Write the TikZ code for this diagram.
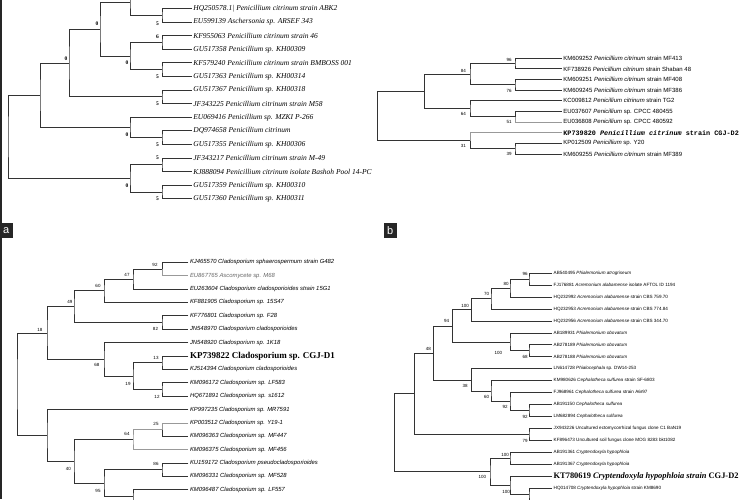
\documentclass[tikz,border=0pt]{standalone}
\usepackage{fontspec}
\setmainfont{Liberation Serif}
\setsansfont{Liberation Sans}
\setmonofont{Liberation Mono}
\usetikzlibrary{math}

\tikzset{
  br/.style={line width=0.9pt, draw=black!80},
  brl/.style={line width=0.6pt, draw=black!40},
  leafa/.style={anchor=west, inner sep=1.5pt, font=\fontsize{7.5}{8}\selectfont\itshape},
  leafb/.style={anchor=west, inner sep=1.5pt, font=\sffamily\fontsize{6}{7}\selectfont},
  leafc/.style={anchor=west, inner sep=1.5pt, font=\sffamily\fontsize{5.9}{7}\selectfont\itshape},
  leafd/.style={anchor=west, inner sep=1.5pt, font=\sffamily\fontsize{4.6}{5}\selectfont},
  bsa/.style={inner sep=0pt, font=\fontsize{5.5}{6}\selectfont\bfseries},
  bs/.style={inner sep=0pt, font=\sffamily\fontsize{4.5}{5}\selectfont},
  tag/.style={fill=black!85, text=white, inner sep=0pt, minimum width=13pt, minimum height=15.6pt, font=\sffamily\fontsize{11}{11}\selectfont},
}

\begin{document}
\begin{tikzpicture}[x=1pt,y=-1pt]
\tikzmath{
\xa=191.7;
\xb=561.7;
\xc=188.3;
\xd=552;
}
\useasboundingbox (0,0) rectangle (750,499);
\clip (0,0) rectangle (750,499);

\coordinate (frameT) at (1,0);
\coordinate (frameB) at (1,499);
\draw[line width=1.3pt, black!85] (frameT) -- (frameB);

% tree a
\node[leafa] (a1) at (\xa,8.5) {HQ250578.1| Penicillium citrinum strain ABK2};
\node[leafa] (a2) at (\xa,22.1) {EU599139 Aschersonia sp. ARSEF 343};
\node[leafa] (a3) at (\xa,35.7) {KF955063 Penicillium citrinum strain 46};
\node[leafa] (a4) at (\xa,49.3) {GU517358 Penicillium sp. KH00309};
\node[leafa] (a5) at (\xa,62.9) {KF579240 Penicillium citrinum strain BMBOSS 001};
\node[leafa] (a6) at (\xa,76.5) {GU517363 Penicillium sp. KH00314};
\node[leafa] (a7) at (\xa,90.1) {GU517367 Penicillium sp. KH00318};
\node[leafa] (a8) at (\xa,103.7) {JF343225 Penicillium citrinum strain M58};
\node[leafa] (a9) at (\xa,117.3) {EU069416 Penicillium sp. MZKI P-266};
\node[leafa] (a10) at (\xa,130.9) {DQ974658 Penicillium citrinum};
\node[leafa] (a11) at (\xa,144.5) {GU517355 Penicillium sp. KH00306};
\node[leafa] (a12) at (\xa,158.1) {JF343217 Penicillium citrinum strain M-49};
\node[leafa] (a13) at (\xa,171.7) {KJ888094 Penicillium citrinum isolate Bashoh Pool 14-PC};
\node[leafa] (a14) at (\xa,185.3) {GU517359 Penicillium sp. KH00310};
\node[leafa] (a15) at (\xa,198.9) {GU517360 Penicillium sp. KH00311};
\coordinate (aCut) at (\xa,-12);

\coordinate (nA0) at (130,2);
\coordinate (nA1) at (162,15.3);
\coordinate (nA2) at (162,42.5);
\coordinate (nA3) at (162,69.7);
\coordinate (nA4) at (130,56.1);
\coordinate (nA5) at (100,29.1);
\coordinate (nA6) at (162,96.9);
\coordinate (nA7) at (69,63);
\coordinate (nA8) at (162,137.7);
\coordinate (nA9) at (130,127.5);
\coordinate (nA10) at (40,95.3);
\coordinate (nA11) at (162,164.9);
\coordinate (nA12) at (162,192.1);
\coordinate (nA13) at (130,178.5);
\coordinate (nAr) at (8,136.9);

\draw[br] (aCut) -| (nA0) |- (nA1);
\draw[br] (a1.west) -| (nA1) |- (a2.west);
\draw[br] (a3.west) -| (nA2) |- (a4.west);
\draw[br] (a5.west) -| (nA3) |- (a6.west);
\draw[br] (nA2) -| (nA4) |- (nA3);
\draw[br] (nA0) -| (nA5) |- (nA4);
\draw[br] (a7.west) -| (nA6) |- (a8.west);
\draw[br] (nA5) -| (nA7) |- (nA6);
\draw[br] (a10.west) -| (nA8) |- (a11.west);
\draw[br] (a9.west) -| (nA9) |- (nA8);
\draw[br] (nA7) -| (nA10) |- (nA9);
\draw[br] (a12.west) -| (nA11) |- (a13.west);
\draw[br] (a14.west) -| (nA12) |- (a15.west);
\draw[br] (nA11) -| (nA13) |- (nA12);
\draw[br] (nA10) -| (nAr) |- (nA13);

\node[bsa] (bA1) at (97,24) {0};
\node[bsa] (bA2) at (157.5,23.5) {5};
\node[bsa] (bA3) at (157.5,37) {6};
\node[bsa] (bA4) at (127,63) {0};
\node[bsa] (bA5) at (157.5,77) {5};
\node[bsa] (bA6) at (66,58.3) {0};
\node[bsa] (bA7) at (157.5,103.3) {5};
\node[bsa] (bA8) at (127,134.5) {0};
\node[bsa] (bA9) at (157.5,144.5) {5};
\node[bsa] (bA10) at (157.5,158) {5};
\node[bsa] (bA11) at (127,186) {0};
\node[bsa] (bA12) at (157.5,199) {5};

\node[tag] (tagA) at (6.3,230.5) {a};

% tree b
\node[leafb] (b1) at (\xb,58.3) {KM609252 \textit{Penicillium citrinum} strain MF413};
\node[leafb] (b2) at (\xb,68.9) {KF738926 \textit{Penicillium citrinum} strain Shaban 48};
\node[leafb] (b3) at (\xb,79.6) {KM609251 \textit{Penicillium citrinum} strain MF408};
\node[leafb] (b4) at (\xb,90.2) {KM609245 \textit{Penicillium citrinum} strain MF386};
\node[leafb] (b5) at (\xb,100.8) {KC009812 \textit{Penicillium citrinum} strain TG2};
\node[leafb] (b6) at (\xb,111.5) {EU037607 \textit{Penicillium} sp. CPCC 480455};
\node[leafb] (b7) at (\xb,122.1) {EU036808 \textit{Penicillium} sp. CPCC 480592};
\node[leafb, font=\ttfamily\bfseries\fontsize{6.8}{7}\selectfont] (b8) at (\xb,132.7) {KP739820 \textit{Penicillium citrinum} strain CGJ-D2};
\node[leafb] (b9) at (\xb,143.4) {KP012509 \textit{Penicillium} sp. Y20};
\node[leafb] (b10) at (\xb,154) {KM609255 \textit{Penicillium citrinum} strain MF389};

\coordinate (nB1) at (515,63.6);
\coordinate (nB2) at (515,84.9);
\coordinate (nB3) at (470,74.3);
\coordinate (nB4) at (515,116.8);
\coordinate (nB5) at (470,108.8);
\coordinate (nB6) at (424.3,91.5);
\coordinate (nB7) at (515,148.7);
\coordinate (nB8) at (470,140.7);
\coordinate (nBr) at (377.7,116.1);

\draw[br] (b1.west) -| (nB1) |- (b2.west);
\draw[br] (b3.west) -| (nB2) |- (b4.west);
\draw[br] (nB1) -| (nB3) |- (nB2);
\draw[br] (b6.west) -| (nB4);
\draw[brl] (nB4) |- (b7.west);
\draw[br] (b5.west) -| (nB5) |- (nB4);
\draw[br] (nB3) -| (nB6) |- (nB5);
\draw[br] (b9.west) -| (nB7) |- (b10.west);
\draw[brl] (b8.west) -| (nB8);
\draw[br] (nB8) |- (nB7);
\draw[br] (nB6) -| (nBr) |- (nB8);

\node[bs] (bB1) at (509,60) {96};
\node[bs] (bB2) at (509,90.5) {76};
\node[bs] (bB3) at (463.3,71) {84};
\node[bs] (bB4) at (509,121.5) {51};
\node[bs] (bB5) at (463.3,113.5) {64};
\node[bs] (bB6) at (463.3,146) {31};
\node[bs] (bB7) at (509,154) {39};

\node[tag] (tagB) at (390.3,230.5) {b};

% tree c
\node[leafc] (c1) at (\xc,262.3) {KJ465570 Cladosporium sphaerospermum strain G482};
\node[leafc, text=black!60] (c2) at (\xc,275.7) {EU867765 Ascomycete sp. M68};
\node[leafc] (c3) at (\xc,289.1) {EU263604 Cladosporium cladosporioides strain 15G1};
\node[leafc] (c4) at (\xc,302.4) {KF881905 Cladosporium sp. 15S47};
\node[leafc] (c5) at (\xc,315.8) {KF776801 Cladosporium sp. F28};
\node[leafc] (c6) at (\xc,329.2) {JN548970 Cladosporium cladosporioides};
\node[leafc] (c7) at (\xc,342.6) {JN548920 Cladosporium sp. 1K18};
\node[leafc, font=\bfseries\fontsize{9}{10}\selectfont] (c8) at (\xc,356) {KP739822 Cladosporium sp. CGJ-D1};
\node[leafc] (c9) at (\xc,369.3) {KJ514394 Cladosporium cladosporioides};
\node[leafc] (c10) at (\xc,382.7) {KM096172 Cladosporium sp. LF583};
\node[leafc] (c11) at (\xc,396.1) {HQ671891 Cladosporium sp. s1612};
\node[leafc] (c12) at (\xc,409.5) {KP997235 Cladosporium sp. MR7591};
\node[leafc] (c13) at (\xc,422.9) {KP003512 Cladosporium sp. Y19-1};
\node[leafc] (c14) at (\xc,436.2) {KM096363 Cladosporium sp. MF447};
\node[leafc] (c15) at (\xc,449.6) {KM096375 Cladosporium sp. MF456};
\node[leafc] (c16) at (\xc,463) {KU159172 Cladosporium pseudocladosporioides};
\node[leafc] (c17) at (\xc,476.4) {KM096331 Cladosporium sp. MF528};
\node[leafc] (c18) at (\xc,489.8) {KM096487 Cladosporium sp. LF557};
\coordinate (cCut) at (\xc,504);

\coordinate (nC1) at (162,269);
\coordinate (nC2) at (133,279.1);
\coordinate (nC3) at (104,290.8);
\coordinate (nC4) at (162,322.5);
\coordinate (nC5) at (74,306.6);
\coordinate (nC6) at (162,362.7);
\coordinate (nC7) at (162,389.4);
\coordinate (nC8) at (133,376);
\coordinate (nC9) at (104,359.3);
\coordinate (nC10) at (47,333);
\coordinate (nC11) at (162,429.6);
\coordinate (nC12) at (133,439.6);
\coordinate (nC13) at (162,469.7);
\coordinate (nC14) at (133,496.5);
\coordinate (nC15) at (104,483.1);
\coordinate (nC16) at (74,461.4);
\coordinate (nC17) at (47,435.4);
\coordinate (nCr) at (17,384.2);

\draw[br] (c1.west) -| (nC1);
\draw[brl] (nC1) |- (c2.west);
\draw[br] (nC1) -| (nC2) |- (c3.west);
\draw[br] (nC2) -| (nC3) |- (c4.west);
\draw[br] (c5.west) -| (nC4) |- (c6.west);
\draw[br] (nC3) -| (nC5) |- (nC4);
\draw[br] (c8.west) -| (nC6) |- (c9.west);
\draw[br] (c10.west) -| (nC7) |- (c11.west);
\draw[br] (nC6) -| (nC8) |- (nC7);
\draw[br] (c7.west) -| (nC9) |- (nC8);
\draw[br] (nC5) -| (nC10) |- (nC9);
\draw[brl] (c13.west) -| (nC11);
\draw[br] (nC11) |- (c14.west);
\draw[brl] (nC11) -| (nC12) |- (c15.west);
\draw[br] (c16.west) -| (nC13) |- (c17.west);
\draw[br] (c18.west) -| (nC14) |- (cCut);
\draw[br] (nC13) -| (nC15) |- (nC14);
\draw[br] (nC12) -| (nC16) |- (nC15);
\draw[br] (c12.west) -| (nC17) |- (nC16);
\draw[br] (nC10) -| (nCr) |- (nC17);

\node[bs] (bC1) at (155,264.5) {92};
\node[bs] (bC2) at (127,274.5) {47};
\node[bs] (bC3) at (98,285.7) {60};
\node[bs] (bC4) at (155.5,329) {82};
\node[bs] (bC5) at (70,302) {49};
\node[bs] (bC6) at (156,357.5) {13};
\node[bs] (bC7) at (157,396.5) {12};
\node[bs] (bC8) at (128,384) {19};
\node[bs] (bC9) at (97,364.5) {68};
\node[bs] (bC10) at (40,330) {18};
\node[bs] (bC11) at (156,424) {25};
\node[bs] (bC12) at (127,434) {64};
\node[bs] (bC13) at (156,464) {86};
\node[bs] (bC14) at (98,490.7) {95};
\node[bs] (bC15) at (68.3,468.7) {40};

% tree d
\node[leafd] (d1) at (\xd,273.3) {AB540495 \textit{Phialemonium atrogriseum}};
\node[leafd] (d2) at (\xd,285.2) {FJ176881 \textit{Acremonium alabamense} isolate AFTOL ID 1194};
\node[leafd] (d3) at (\xd,297.2) {HQ232992 \textit{Acremonium alabamense} strain CBS 759.70};
\node[leafd] (d4) at (\xd,309.1) {HQ232953 \textit{Acremonium alabamense} strain CBS 774.84};
\node[leafd] (d5) at (\xd,321.1) {HQ232956 \textit{Acremonium alabamense} strain CBS 344.70};
\node[leafd] (d6) at (\xd,333) {AB189931 \textit{Phialemonium obovatum}};
\node[leafd] (d7) at (\xd,344.9) {AB278189 \textit{Phialemonium obovatum}};
\node[leafd] (d8) at (\xd,356.9) {AB278188 \textit{Phialemonium obovatum}};
\node[leafd] (d9) at (\xd,368.8) {LN614728 \textit{Phialocephala} sp. DW14-253};
\node[leafd] (d10) at (\xd,380.8) {KM980626 \textit{Cephalotheca sulfurea} strain SF-6803};
\node[leafd] (d11) at (\xd,392.7) {FJ968961 \textit{Cephalotheca sulfurea} strain A6r97};
\node[leafd] (d12) at (\xd,404.6) {AB191150 \textit{Cephalotheca sulfurea}};
\node[leafd] (d13) at (\xd,416.6) {LM682894 \textit{Cephalotheca sulfurea}};
\node[leafd] (d14) at (\xd,428.5) {JX943226 Uncultured ectomycorrhizal fungus clone C1 BaN19};
\node[leafd] (d15) at (\xd,440.5) {KF896473 Uncultured soil fungus clone MOG 8283 bkt1082};
\node[leafd] (d16) at (\xd,452.4) {AB191361 \textit{Cryptendoxyla hypophloia}};
\node[leafd] (d17) at (\xd,464.3) {AB191367 \textit{Cryptendoxyla hypophloia}};
\node[leafd, font=\rmfamily\bfseries\fontsize{8.4}{9}\selectfont] (d18) at (\xd,476.3) {KT780619 \textit{Cryptendoxyla hypophloia strain} CGJ-D2};
\node[leafd] (d19) at (\xd,488.2) {HQ014708 \textit{Cryptendoxyla hypophloia} strain KM8690};
\coordinate (dCut) at (\xd,501);

\coordinate (nD1) at (529,279.3);
\coordinate (nD2) at (510,288.3);
\coordinate (nD3) at (491,298.7);
\coordinate (nD4) at (471.7,309.9);
\coordinate (nD5) at (529,350.9);
\coordinate (nD6) at (510,342);
\coordinate (nD7) at (452.3,326);
\coordinate (nD8) at (529,410.6);
\coordinate (nD9) at (510,401.7);
\coordinate (nD10) at (491,391.2);
\coordinate (nD11) at (471.7,380);
\coordinate (nD12) at (433.3,353);
\coordinate (nD13) at (529,434.5);
\coordinate (nD14) at (414.3,393.8);
\coordinate (nD15) at (510,458.4);
\coordinate (nD16) at (529,494.6);
\coordinate (nD17) at (510,485.4);
\coordinate (nD18) at (490,471.9);
\coordinate (nDr) at (394.3,432.8);

\draw[br] (d1.west) -| (nD1) |- (d2.west);
\draw[br] (nD1) -| (nD2) |- (d3.west);
\draw[br] (nD2) -| (nD3) |- (d4.west);
\draw[br] (nD3) -| (nD4) |- (d5.west);
\draw[br] (d7.west) -| (nD5) |- (d8.west);
\draw[br] (d6.west) -| (nD6) |- (nD5);
\draw[br] (nD4) -| (nD7) |- (nD6);
\draw[br] (d12.west) -| (nD8) |- (d13.west);
\draw[br] (d11.west) -| (nD9) |- (nD8);
\draw[br] (d10.west) -| (nD10) |- (nD9);
\draw[br] (d9.west) -| (nD11) |- (nD10);
\draw[br] (nD7) -| (nD12) |- (nD11);
\draw[br] (d14.west) -| (nD13) |- (d15.west);
\draw[br] (nD12) -| (nD14) |- (nD13);
\draw[br] (d16.west) -| (nD15) |- (d17.west);
\draw[br] (d19.west) -| (nD16) |- (dCut);
\draw[br] (d18.west) -| (nD17) |- (nD16);
\draw[br] (nD15) -| (nD18) |- (nD17);
\draw[br] (nD14) -| (nDr) |- (nD18);

\node[bs] (bD1) at (525,274.3) {96};
\node[bs] (bD2) at (506,284.3) {80};
\node[bs] (bD3) at (486.7,294.3) {70};
\node[bs] (bD4) at (465,305.7) {100};
\node[bs] (bD5) at (525,356.7) {68};
\node[bs] (bD6) at (498.3,353.3) {100};
\node[bs] (bD7) at (446.7,321) {94};
\node[bs] (bD8) at (428.3,349) {48};
\node[bs] (bD9) at (465,386) {38};
\node[bs] (bD10) at (486.7,397.3) {60};
\node[bs] (bD11) at (505,407.3) {92};
\node[bs] (bD12) at (525,416.7) {92};
\node[bs] (bD13) at (525,440.7) {79};
\node[bs] (bD14) at (505,455) {100};
\node[bs] (bD15) at (482.3,477.3) {100};
\node[bs] (bD16) at (506,491.7) {100};

\end{tikzpicture}
\end{document}
